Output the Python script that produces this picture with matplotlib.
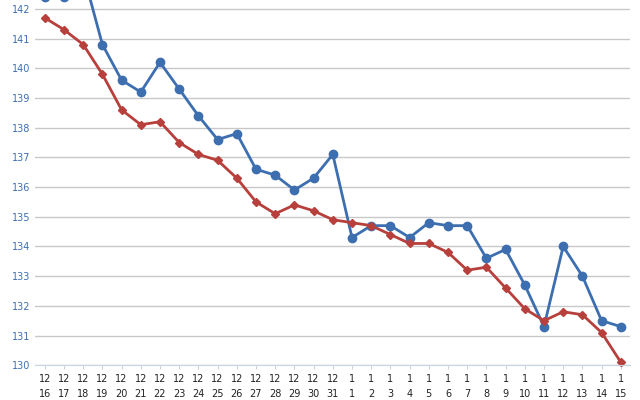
import matplotlib
matplotlib.use("Agg")
import matplotlib.pyplot as plt

days = ["16", "17", "18", "19", "20", "21", "22", "23", "24", "25", "26", "27", "28", "29", "30", "31",
        "1", "2", "3", "4", "5", "6", "7", "8", "9", "10", "11", "12", "13", "14", "15"]
months = ["12"] * 16 + ["1"] * 15
blue = [142.4, 142.4, 143.2, 140.8, 139.6, 139.2, 140.2, 139.3, 138.4, 137.6, 137.8, 136.6, 136.4, 135.9,
        136.3, 137.1, 134.3, 134.7, 134.7, 134.3, 134.8, 134.7, 134.7, 133.6, 133.9, 132.7, 131.3, 134.0,
        133.0, 131.5, 131.3]
red = [141.7, 141.3, 140.8, 139.8, 138.6, 138.1, 138.2, 137.5, 137.1, 136.9, 136.3, 135.5, 135.1, 135.4,
       135.2, 134.9, 134.8, 134.7, 134.4, 134.1, 134.1, 133.8, 133.2, 133.3, 132.6, 131.9, 131.5, 131.8,
       131.7, 131.1, 130.1]

fig = plt.figure(figsize=(6.4, 4.0), dpi=100)
ax = fig.add_axes([0.055, 0.087, 0.93, 0.913])
x = range(len(days))
ax.plot(x, blue, color="#3d6fb0", lw=2, marker="o", ms=6, clip_on=True)
ax.plot(x, red, color="#b8403c", lw=2, marker="D", ms=4, clip_on=False)
ax.set_xlim(-0.5, len(days) - 0.5)
ax.set_ylim(130, 142.3)
ax.set_yticks(range(130, 143))
ax.set_xticks(list(x))
ax.set_xticklabels([m + "\n" + d for m, d in zip(months, days)], fontsize=7, color="#222222", linespacing=1.6)
ax.tick_params(axis="y", labelsize=7, labelcolor="#3d6fb0", length=0)
ax.tick_params(axis="x", length=3, color="#c8d4e0")
ax.grid(axis="y", color="#c8c8c8", lw=1)
ax.set_axisbelow(True)
for s in ["top", "right", "left"]:
    ax.spines[s].set_visible(False)
ax.spines["bottom"].set_color("#c8d4e0")
fig.savefig("out.png")
